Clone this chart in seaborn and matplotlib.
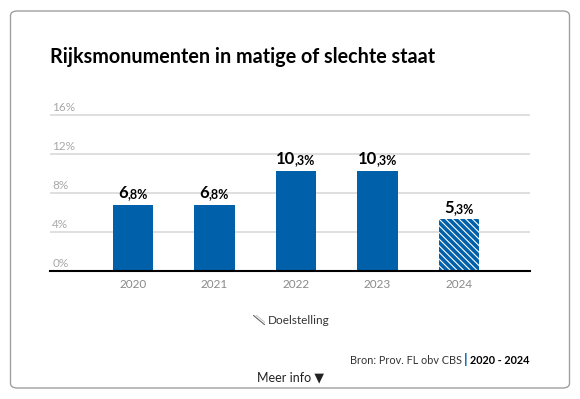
import pandas as pd
import matplotlib
matplotlib.use('Agg')
import matplotlib.pyplot as plt
import seaborn as sns
from matplotlib.patches import FancyBboxPatch
from matplotlib import transforms

# Gegevens
jaren = ['2020', '2021', '2022', '2023', '2024']
waarden = [6.8, 6.8, 10.3, 10.3, 5.3]
hele_deel = ['6', '6', '10', '10', '5']
decimaal_deel = [',8%', ',8%', ',3%', ',3%', ',3%']
doel = [False, False, False, False, True]
y_ticks = [0, 4, 8, 12, 16]

sns.set_theme(style='white')
plt.rcParams['font.family'] = ['Lato', 'DejaVu Sans']
plt.rcParams['hatch.color'] = 'white'
plt.rcParams['hatch.linewidth'] = 0.8

blauw = '#0060a9'
W, H = 580, 399
fig = plt.figure(figsize=(W / 100, H / 100), dpi=100)

# kaart met afgeronde hoeken
kaart = FancyBboxPatch((10.5 / W, 11 / H), 559 / W, 377 / H,
                       boxstyle='round,pad=0,rounding_size=0.012',
                       transform=fig.transFigure, facecolor='white',
                       edgecolor='#a0a0a0', linewidth=1.0, zorder=-10)
fig.patches.append(kaart)

ax = fig.add_axes([50 / W, (H - 271) / H, 480 / W, 160 / H])
ax.set_facecolor('none')

df = pd.DataFrame({'jaar': jaren, 'waarde': waarden})
sns.barplot(data=df, x='jaar', y='waarde', color=blauw, saturation=1,
            width=0.5, ax=ax, zorder=3)

for patch, is_doel in zip(ax.patches, doel):
    patch.set_linewidth(0)
    if is_doel:
        patch.set_edgecolor('white')
        patch.set_hatch('\\\\\\\\\\')
    else:
        patch.set_edgecolor(blauw)

ax.set_xlim(-1.02, 4.87)
ax.set_ylim(0, 16.4)
sns.despine(ax=ax, left=True, top=True, right=True, bottom=False)
ax.spines['bottom'].set_color('black')
ax.spines['bottom'].set_linewidth(1.5)
ax.spines['bottom'].set_zorder(5)
ax.set_yticks([])
ax.set_xlabel('')
ax.set_ylabel('')
ax.tick_params(axis='x', length=0, pad=6, labelsize=8.5, labelcolor='#8a8a8a')

# rasterlijnen en labels
trans = transforms.blended_transform_factory(ax.transAxes, ax.transData)
for t in y_ticks:
    if t > 0:
        ax.axhline(t, color='#d9d9d9', linewidth=1.2, zorder=1)
    ax.text(0.005, t + 0.2, f'{t}%', transform=trans, fontsize=8.5,
            color='#a8a8a8', ha='left', va='bottom')

# waardelabels
fig.canvas.draw()
r = fig.canvas.get_renderer()
for i, (v, a, b) in enumerate(zip(waarden, hele_deel, decimaal_deel)):
    t1 = ax.text(i, v + 0.35, a, fontsize=12, fontweight='bold',
                 color='black', ha='left', va='bottom')
    t2 = ax.annotate(b, xy=(1, 0), xycoords=t1, fontsize=9,
                     fontweight='bold', color='black', ha='left', va='bottom',
                     xytext=(-0.5, 0.5), textcoords='offset points')
    w1 = t1.get_window_extent(r).width
    w2 = t2.get_window_extent(r).width
    dx = -(w1 + w2) / 2
    t1.set_transform(ax.transData + transforms.ScaledTranslation(dx / 100, 0, fig.dpi_scale_trans))

# titel
fig.text(50 / W, 1 - 57 / H, 'Rijksmonumenten in matige of slechte staat',
         fontsize=14.2, fontweight='bold', color='black', va='center', ha='left')

# legenda
leg_ax = fig.add_axes([253 / W, 1 - 325 / H, 12 / W, 10 / H])
leg_ax.plot([0, 1], [1, 0], color='#666666', linewidth=0.8)
leg_ax.plot([0.25, 1], [1, 0.25], color='#bbbbbb', linewidth=0.6)
leg_ax.set_xlim(0, 1)
leg_ax.set_ylim(0, 1)
leg_ax.axis('off')
fig.text(268 / W, 1 - 320 / H, 'Doelstelling', fontsize=8.5, color='#333333',
         va='center', ha='left')

# bron
t_jaar = fig.text(529 / W, 1 - 360 / H, '2020 - 2024', fontsize=7.8,
                  fontweight='bold', color='black', va='center', ha='right')
fig.canvas.draw()
bb = t_jaar.get_window_extent(r)
x_sep = bb.x0 - 4
fig.text(x_sep / W, 1 - 360 / H, '|', fontsize=10, color='#0060a9',
         va='center', ha='center', fontweight='bold')
fig.text((x_sep - 4) / W, 1 - 360 / H, 'Bron: Prov. FL obv CBS', fontsize=7.8,
         color='#333333', va='center', ha='right')

fig.text(257 / W, 1 - 377 / H, 'Meer info \u25BC', fontsize=9,
         color='#222222', va='center', ha='left',
         family=['Lato', 'DejaVu Sans'])

fig.savefig('out.png', dpi=100)
